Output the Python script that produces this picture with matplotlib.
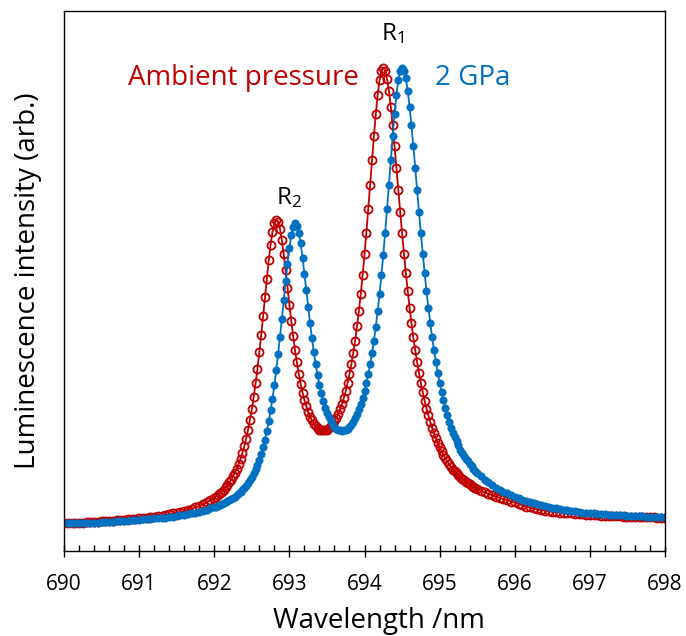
#!/usr/bin/env python3
"""Ruby R1/R2 luminescence at ambient pressure and 2 GPa."""

import matplotlib

matplotlib.use("Agg")
import matplotlib.pyplot as plt
from matplotlib.ticker import MultipleLocator

plt.rcParams["font.family"] = ["Open Sans", "DejaVu Sans"]
plt.rcParams["mathtext.default"] = "regular"

# wavelength grid (nm), shared by both spectra
WAVELENGTH = [
    690.00, 690.05, 690.10, 690.15, 690.20, 690.25, 690.30, 690.35, 690.40, 690.45,
    690.50, 690.55, 690.60, 690.65, 690.70, 690.75, 690.80, 690.85, 690.90, 690.95,
    691.00, 691.05, 691.10, 691.15, 691.20, 691.25, 691.30, 691.35, 691.40, 691.45,
    691.50, 691.55, 691.60, 691.65, 691.70, 691.75, 691.80, 691.85, 691.90, 691.95,
    692.000, 692.025, 692.050, 692.075, 692.100, 692.125, 692.150, 692.175, 692.200, 692.225,
    692.250, 692.275, 692.300, 692.325, 692.350, 692.375, 692.400, 692.425, 692.450, 692.475,
    692.500, 692.525, 692.550, 692.575, 692.600, 692.625, 692.650, 692.675, 692.700, 692.725,
    692.750, 692.775, 692.800, 692.825, 692.850, 692.875, 692.900, 692.925, 692.950, 692.975,
    693.000, 693.025, 693.050, 693.075, 693.100, 693.125, 693.150, 693.175, 693.200, 693.225,
    693.250, 693.275, 693.300, 693.325, 693.350, 693.375, 693.400, 693.425, 693.450, 693.475,
    693.500, 693.525, 693.550, 693.575, 693.600, 693.625, 693.650, 693.675, 693.700, 693.725,
    693.750, 693.775, 693.800, 693.825, 693.850, 693.875, 693.900, 693.925, 693.950, 693.975,
    694.000, 694.025, 694.050, 694.075, 694.100, 694.125, 694.150, 694.175, 694.200, 694.225,
    694.250, 694.275, 694.300, 694.325, 694.350, 694.375, 694.400, 694.425, 694.450, 694.475,
    694.500, 694.525, 694.550, 694.575, 694.600, 694.625, 694.650, 694.675, 694.700, 694.725,
    694.750, 694.775, 694.800, 694.825, 694.850, 694.875, 694.900, 694.925, 694.950, 694.975,
    695.000, 695.025, 695.050, 695.075, 695.100, 695.125, 695.150, 695.175, 695.200, 695.225,
    695.250, 695.275, 695.300, 695.325, 695.350, 695.375, 695.400, 695.425, 695.450, 695.475,
    695.500,
    695.55, 695.60, 695.65, 695.70, 695.75, 695.80, 695.85, 695.90, 695.95, 696.00,
    696.05, 696.10, 696.15, 696.20, 696.25, 696.30, 696.35, 696.40, 696.45, 696.50,
    696.55, 696.60, 696.65, 696.70, 696.75, 696.80, 696.85, 696.90, 696.95, 697.00,
    697.05, 697.10, 697.15, 697.20, 697.25, 697.30, 697.35, 697.40, 697.45, 697.50,
    697.55, 697.60, 697.65, 697.70, 697.75, 697.80, 697.85, 697.90, 697.95, 698.00,
]

# normalised intensity, ambient pressure
AMBIENT = [
    0.000, 0.000, 0.000, 0.001, 0.001, 0.001, 0.002, 0.002, 0.003, 0.003,
    0.004, 0.004, 0.005, 0.005, 0.006, 0.006, 0.007, 0.008, 0.009, 0.009,
    0.010, 0.011, 0.012, 0.013, 0.014, 0.015, 0.016, 0.018, 0.019, 0.021,
    0.023, 0.024, 0.026, 0.029, 0.031, 0.034, 0.037, 0.041, 0.045, 0.050,
    0.055, 0.058, 0.062, 0.065, 0.069, 0.073, 0.078, 0.083, 0.089, 0.095,
    0.102, 0.110, 0.119, 0.129, 0.141, 0.154, 0.168, 0.185, 0.204, 0.226,
    0.249, 0.276, 0.306, 0.338, 0.374, 0.412, 0.453, 0.495, 0.536, 0.576,
    0.610, 0.638, 0.657, 0.664, 0.660, 0.645, 0.620, 0.589, 0.554, 0.516,
    0.479, 0.443, 0.410, 0.379, 0.352, 0.327, 0.305, 0.286, 0.270, 0.256,
    0.243, 0.233, 0.225, 0.218, 0.212, 0.208, 0.205, 0.204, 0.203, 0.203,
    0.205, 0.208, 0.212, 0.217, 0.223, 0.230, 0.239, 0.249, 0.261, 0.274,
    0.289, 0.307, 0.326, 0.348, 0.373, 0.400, 0.431, 0.465, 0.502, 0.544,
    0.589, 0.637, 0.688, 0.742, 0.795, 0.848, 0.896, 0.939, 0.971, 0.991,
    0.998, 0.992, 0.974, 0.948, 0.913, 0.872, 0.827, 0.779, 0.730, 0.682,
    0.635, 0.591, 0.548, 0.509, 0.472, 0.438, 0.407, 0.379, 0.353, 0.329,
    0.307, 0.287, 0.268, 0.251, 0.236, 0.222, 0.209, 0.197, 0.186, 0.176,
    0.166, 0.158, 0.150, 0.142, 0.135, 0.129, 0.123, 0.117, 0.114, 0.109,
    0.105, 0.101, 0.097, 0.094, 0.090, 0.088, 0.085, 0.082, 0.080, 0.077,
    0.075,
    0.071, 0.067, 0.064, 0.061, 0.058, 0.055, 0.052, 0.050, 0.047, 0.045,
    0.042, 0.039, 0.036, 0.034, 0.032, 0.030, 0.028, 0.027, 0.026, 0.025,
    0.024, 0.023, 0.022, 0.021, 0.021, 0.020, 0.019, 0.019, 0.018, 0.018,
    0.017, 0.017, 0.016, 0.016, 0.016, 0.015, 0.015, 0.015, 0.014, 0.014,
    0.014, 0.014, 0.013, 0.013, 0.013, 0.013, 0.013, 0.012, 0.012, 0.012,
]

# normalised intensity, 2 GPa
GPA_2 = [
    -0.001, -0.001, -0.001, -0.001, 0.000, 0.000, 0.000, 0.001, 0.001, 0.001,
    0.002, 0.002, 0.003, 0.003, 0.004, 0.004, 0.005, 0.005, 0.006, 0.006,
    0.007, 0.008, 0.008, 0.009, 0.010, 0.011, 0.011, 0.012, 0.013, 0.014,
    0.016, 0.017, 0.018, 0.020, 0.021, 0.023, 0.025, 0.027, 0.029, 0.032,
    0.034, 0.036, 0.038, 0.039, 0.041, 0.043, 0.045, 0.048, 0.050, 0.053,
    0.055, 0.058, 0.062, 0.065, 0.068, 0.073, 0.077, 0.082, 0.088, 0.094,
    0.101, 0.109, 0.118, 0.128, 0.139, 0.152, 0.167, 0.183, 0.202, 0.223,
    0.247, 0.273, 0.302, 0.335, 0.370, 0.408, 0.448, 0.489, 0.530, 0.569,
    0.603, 0.631, 0.649, 0.657, 0.652, 0.637, 0.613, 0.582, 0.547, 0.511,
    0.474, 0.439, 0.406, 0.375, 0.348, 0.324, 0.303, 0.284, 0.268, 0.253,
    0.241, 0.232, 0.223, 0.216, 0.211, 0.207, 0.204, 0.203, 0.202, 0.203,
    0.204, 0.207, 0.211, 0.216, 0.222, 0.230, 0.238, 0.249, 0.260, 0.274,
    0.289, 0.306, 0.326, 0.348, 0.372, 0.400, 0.430, 0.465, 0.502, 0.543,
    0.588, 0.637, 0.688, 0.742, 0.795, 0.848, 0.896, 0.938, 0.971, 0.991,
    0.998, 0.992, 0.975, 0.948, 0.913, 0.872, 0.827, 0.779, 0.730, 0.682,
    0.635, 0.591, 0.549, 0.509, 0.472, 0.439, 0.407, 0.379, 0.353, 0.329,
    0.307, 0.287, 0.269, 0.252, 0.236, 0.222, 0.209, 0.197, 0.188, 0.179,
    0.170, 0.161, 0.154, 0.147, 0.141, 0.135, 0.129, 0.124, 0.119, 0.114,
    0.110,
    0.102, 0.095, 0.089, 0.083, 0.077, 0.073, 0.069, 0.065, 0.061, 0.057,
    0.054, 0.051, 0.048, 0.045, 0.043, 0.041, 0.039, 0.037, 0.035, 0.033,
    0.032, 0.031, 0.029, 0.028, 0.027, 0.026, 0.024, 0.023, 0.023, 0.022,
    0.021, 0.020, 0.019, 0.019, 0.018, 0.018, 0.017, 0.017, 0.017, 0.016,
    0.016, 0.015, 0.015, 0.015, 0.014, 0.014, 0.014, 0.014, 0.014, 0.013,
]

X_TICKS = [690, 691, 692, 693, 694, 695, 696, 697, 698]

RED = "#C00000"
BLUE = "#0070C0"

W, H = 686, 636

fig = plt.figure(figsize=(W / 100, H / 100), dpi=100)
ax = fig.add_axes([64 / W, 85 / H, 601 / W, 540 / H])

ax.plot(WAVELENGTH, AMBIENT, color=RED, linewidth=1.3, marker="o", markersize=5.8,
        markerfacecolor="none", markeredgecolor=RED, markeredgewidth=1.3)
ax.plot(WAVELENGTH, GPA_2, color=BLUE, linewidth=1.3, marker="o", markersize=5.2,
        markerfacecolor=BLUE, markeredgecolor=BLUE, markeredgewidth=0.6)

ax.set_xlim(690, 698)
ax.set_ylim(-0.0614, 1.1228)
ax.set_xticks(X_TICKS)
ax.set_xticklabels([str(t) for t in X_TICKS])
ax.xaxis.set_minor_locator(MultipleLocator(0.2))
ax.tick_params(axis="x", which="major", direction="inout", length=9, width=1.0,
               labelsize=15, pad=12)
ax.tick_params(axis="x", which="minor", direction="in", length=4, width=1.0)
ax.tick_params(axis="y", left=False, labelleft=False)
for spine in ax.spines.values():
    spine.set_linewidth(1.0)

ax.text(692.39, 0.9605, "Ambient pressure", color=RED, fontsize=20, ha="center", va="baseline")
ax.text(695.44, 0.9605, "2 GPa", color=BLUE, fontsize=20, ha="center", va="baseline")
ax.text(694.378, 1.059, r"$R_1$", fontsize=17.5, ha="center", va="baseline")
ax.text(692.995, 0.6996, r"$R_2$", fontsize=17.5, ha="center", va="baseline")

fig.text(378.5 / W, 8 / H, "Wavelength /nm", fontsize=20, ha="center", va="baseline")
fig.text(28 / W, (H - 281) / H, "Luminescence intensity (arb.)", fontsize=20,
         rotation=90, ha="center", va="center")

fig.savefig("out.png", dpi=100)
